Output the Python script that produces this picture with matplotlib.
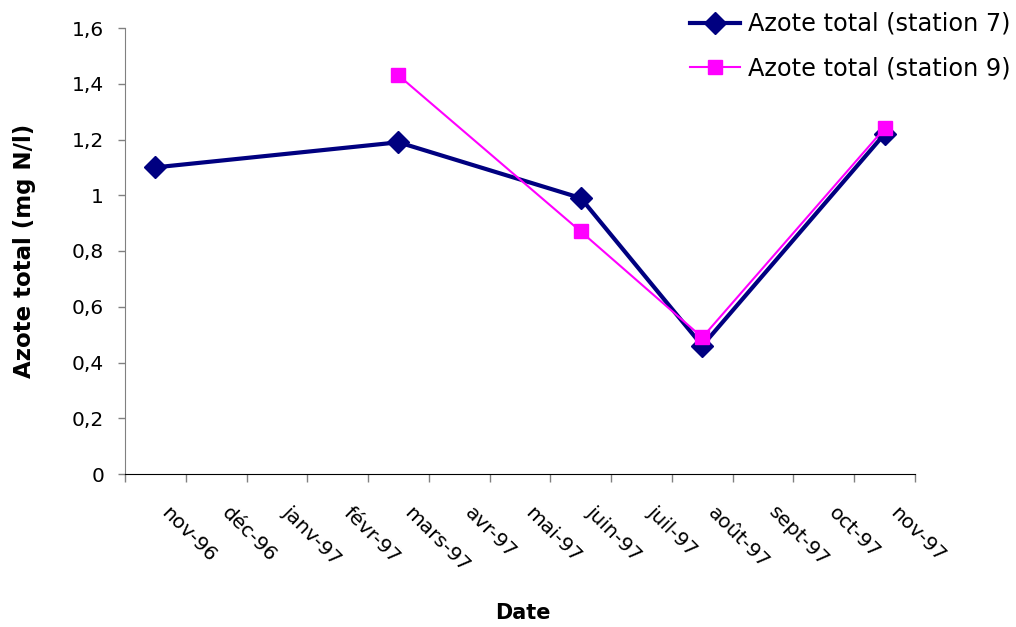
import numpy as np
import matplotlib
matplotlib.use("Agg")
import matplotlib.pyplot as plt
from matplotlib import transforms

plt.rcParams['font.family'] = ['DejaVu Sans']

# Monthly categories on the x axis
months = ['nov-96', 'déc-96', 'janv-97', 'févr-97', 'mars-97', 'avr-97', 'mai-97',
          'juin-97', 'juil-97', 'août-97', 'sept-97', 'oct-97', 'nov-97']

# Total nitrogen, station 7
station7_months = ['nov-96', 'mars-97', 'juin-97', 'août-97', 'nov-97']
station7_values = [1.10, 1.19, 0.99, 0.46, 1.22]

# Total nitrogen, station 9
station9_months = ['mars-97', 'juin-97', 'août-97', 'nov-97']
station9_values = [1.43, 0.87, 0.49, 1.24]

y_ticks = [0, 0.2, 0.4, 0.6, 0.8, 1.0, 1.2, 1.4, 1.6]
y_tick_labels = ['0', '0,2', '0,4', '0,6', '0,8', '1', '1,2', '1,4', '1,6']

label7 = 'Azote total (station 7)'
label9 = 'Azote total (station 9)'

W, H = 1016, 627
fig = plt.figure(figsize=(W / 100, H / 100), dpi=100)
ax = fig.add_axes([125 / W, 1 - 474 / H, 790 / W, 446 / H])

n = len(months)
ax.set_xlim(-0.5, n - 0.5)
ax.set_ylim(0, 1.6)

pos7 = [months.index(m) for m in station7_months]
pos9 = [months.index(m) for m in station9_months]

ax.plot(pos7, station7_values, color='#000080', lw=3, marker='D', ms=11,
        label=label7, zorder=3)
ax.plot(pos9, station9_values, color='#FF00FF', lw=1.5, marker='s', ms=10,
        label=label9, zorder=4)

# Tick marks sit on month boundaries, labels under each month
ax.set_xticks(np.arange(n + 1) - 0.5)
ax.set_xticklabels([])
ax.tick_params(axis='x', direction='out', length=5.5, width=1, color='#808080')

label_trans = transforms.blended_transform_factory(ax.transData, ax.transAxes) + \
    transforms.ScaledTranslation(15 / 100, -29 / 100, fig.dpi_scale_trans)
for i, m in enumerate(months):
    ax.text(i, 0, m, transform=label_trans, rotation=-45, rotation_mode='anchor',
            ha='left', va='top', fontsize=14.5, color='black')

ax.set_yticks(y_ticks)
ax.set_yticklabels(y_tick_labels, fontsize=14.5)
ax.tick_params(axis='y', direction='out', length=5, width=1, color='#808080', pad=10)

for side in ('top', 'right'):
    ax.spines[side].set_visible(False)
ax.spines['left'].set_color('#808080')
ax.spines['bottom'].set_color('black')

ax.set_ylabel('Azote total (mg N/l)', fontsize=16.5, fontweight='bold', va='center')
ax.yaxis.set_label_coords((24 - 125) / 790, 0.5)
ax.set_xlabel('Date', fontsize=15, fontweight='bold', va='center')
ax.xaxis.set_label_coords((523 - 125) / 790, (474 - 613) / 446)

ax.legend(loc='upper left', bbox_to_anchor=(690 / W, 1 - 12 / H),
          bbox_transform=fig.transFigure, frameon=False, fontsize=17.3,
          handlelength=2.1, handletextpad=0.33, labelspacing=0.85,
          borderpad=0, borderaxespad=0, numpoints=1)

fig.savefig('out.png', dpi=100)
